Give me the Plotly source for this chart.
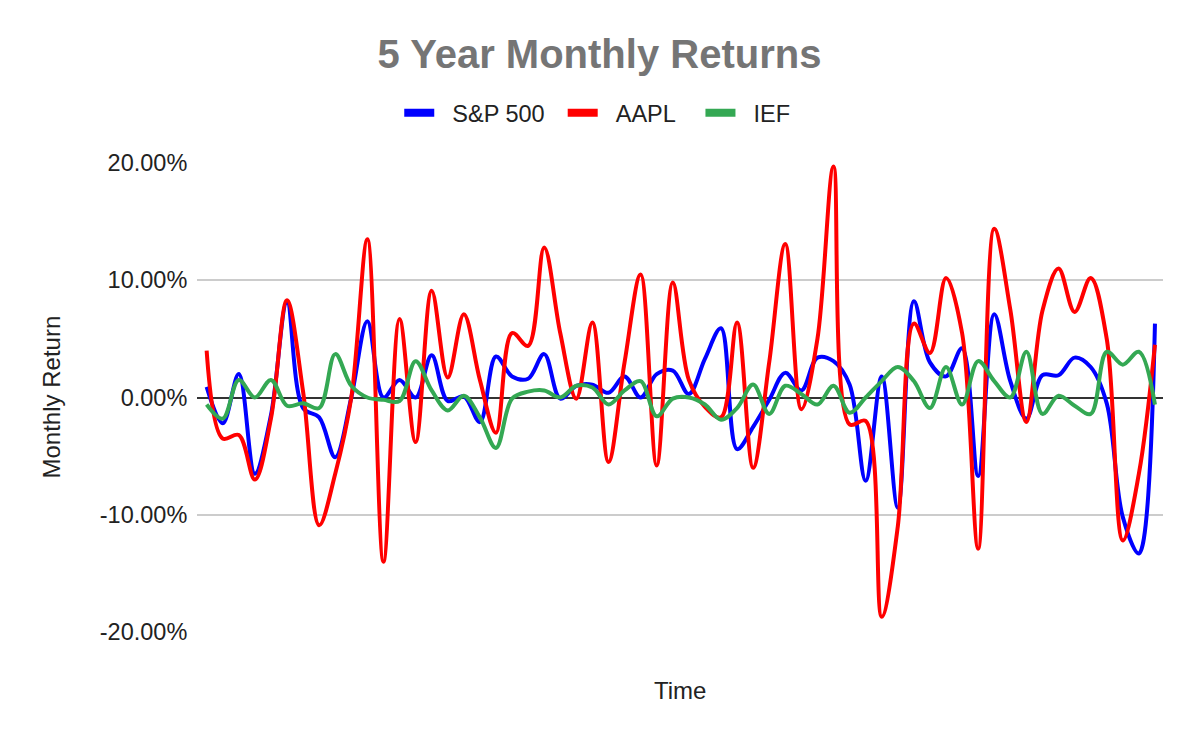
import plotly.graph_objects as go

months = list(range(60))

sp500 = [0.9, -2.2, 2.0, -6.5, -1.5, 8.1, -0.9, -1.7, -5.1, 0.0,
         6.5, 0.0, 1.5, 0.0, 3.6, -0.3, 0.1, -2.1, 3.5, 1.8,
         1.6, 3.7, -0.1, 1.0, 1.1, 0.4, 1.8, 0.0, 2.0, 2.3,
         0.3, 3.3, 5.9, -4.4, -2.5, -0.2, 2.1, 0.6, 3.4, 3.1,
         1.1, -7.1, 1.8, -9.4, 8.2, 3.0, 1.8, 4.2, -6.7, 7.1,
         1.4, -1.8, 1.9, 1.9, 3.4, 2.6, -0.5, -10.2, -13.3, 6.3]

aapl = [4.0, -3.5, -3.2, -7.0, -1.8, 8.3, 0.5, -10.9, -6.5, 0.0,
        13.5, -14.0, 6.7, -3.8, 9.1, 1.7, 7.1, 1.5, -3.0, 5.5,
        4.4, 12.8, 5.5, -0.1, 6.4, -5.5, 3.0, 10.5, -5.8, 9.8,
        1.5, -0.8, -1.7, 6.4, -6.0, 3.0, 13.1, -1.0, 5.0, 19.7,
        -2.3, -2.0, -18.7, -11.0, 6.3, 3.8, 10.2, 5.5, -12.9, 14.4,
        7.5, -2.1, 7.4, 11.0, 7.3, 10.2, 5.0, -12.2, -6.5, 4.5]

ief = [-0.6, -1.8, 1.5, 0.0, 1.5, -0.7, -0.5, -0.9, 3.7, 1.0,
       0.0, -0.2, -0.3, 3.1, 0.6, -1.1, 0.15, -1.7, -4.3, -0.1,
       0.5, 0.6, 0.0, 1.0, 0.85, -0.6, 0.6, 1.4, -1.6, -0.1,
       0.0, -0.6, -1.9, -0.9, 1.1, -1.4, 1.0, 0.3, -0.6, 1.0,
       -1.3, 0.0, 1.4, 2.6, 1.4, -0.9, 2.6, -0.6, 3.1, 1.4,
       0.0, 3.9, -1.4, 0.15, -0.7, -1.4, 3.9, 2.8, 3.9, -0.6]

tick_vals = [-20, -10, 0, 10, 20]
tick_text = ["-20.00%", "-10.00%", "0.00%", "10.00%", "20.00%"]

series = [("S&P 500", sp500, "#0000FF"),
          ("AAPL", aapl, "#FF0000"),
          ("IEF", ief, "#34A853")]

FONT = "Arial, 'Liberation Sans', sans-serif"
NB = "\u00a0"
LEAD = NB * 2
TRAIL = [NB * 2, NB * 3, ""]

fig = go.Figure()
for k, (name, vals, color) in enumerate(series):
    label = LEAD + name + TRAIL[k]
    # data line (legend entry drawn by the companion trace below)
    fig.add_trace(go.Scatter(
        x=months, y=vals, name=name, mode="lines", legendgroup=name,
        showlegend=False,
        line=dict(color=color, width=4, shape="spline", smoothing=1.0),
    ))
    # legend swatch with a thicker stroke, like the reference
    fig.add_trace(go.Scatter(
        x=[None], y=[None], name=label, mode="lines", legendgroup=name,
        showlegend=True, hoverinfo="skip",
        line=dict(color=color, width=8),
    ))

W, H = 1199, 742
ml, mr, mt, mb = 197, 36, 162.5, 109.5

fig.update_layout(
    width=W, height=H,
    margin=dict(l=ml, r=mr, t=mt, b=mb, pad=0),
    paper_bgcolor="white", plot_bgcolor="white",
    font=dict(family=FONT, size=23.5, color="#222222"),
    title=dict(text="<b>5 Year Monthly Returns</b>", x=0.5, xref="container",
               xanchor="center", y=1 - 54 / H, yref="container", yanchor="middle",
               font=dict(family=FONT, size=40, color="#757575")),
    showlegend=True,
    legend=dict(orientation="h", x=(W / 2 - 2.25) / W, xref="container", xanchor="center",
                y=1 - 113 / H, yref="container", yanchor="middle",
                font=dict(family=FONT, size=23.5, color="#222222"),
                itemwidth=30, bgcolor="rgba(0,0,0,0)"),
    xaxis=dict(range=[-0.6, 59.5], showgrid=False, zeroline=False,
               showticklabels=False, ticks="", showline=False, fixedrange=True),
    yaxis=dict(range=[-20, 20], tickmode="array", tickvals=tick_vals, ticktext=tick_text,
               showgrid=True, gridcolor="#cccccc", gridwidth=1.5,
               zeroline=True, zerolinecolor="#333333", zerolinewidth=2,
               showline=False, ticks="outside", ticklen=4, tickcolor="rgba(0,0,0,0)",
               tickfont=dict(family=FONT, size=23.5, color="#222222")),
    annotations=[
        dict(text="Monthly Return", xref="paper", yref="paper",
             x=-(ml - 51) / (W - ml - mr), xanchor="center",
             y=0.5, yanchor="middle", textangle=-90, showarrow=False,
             font=dict(family=FONT, size=24, color="#222222")),
        dict(text="Time", xref="paper", yref="paper",
             x=0.5, xanchor="center",
             y=-(691 - 632.5) / (H - mt - mb), yanchor="middle", showarrow=False,
             font=dict(family=FONT, size=24, color="#222222")),
    ],
)

fig.write_html("out.html", config={"displayModeBar": False},
               post_script="document.body.style.margin='0';")
